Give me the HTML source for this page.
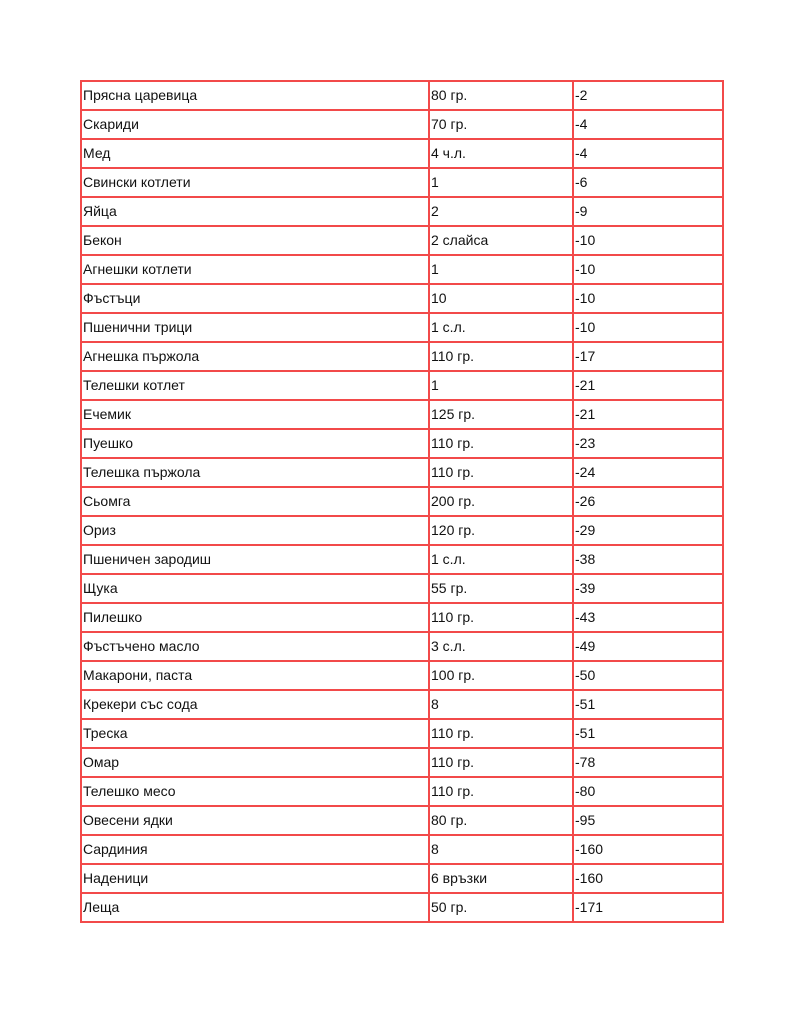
<!DOCTYPE html>
<html><head><meta charset="utf-8"><style>
html,body{margin:0;padding:0;background:#fff;width:805px;height:1024px;overflow:hidden}
table{position:absolute;left:80px;top:80px;border-collapse:collapse;font-family:"Liberation Sans","DejaVu Sans",sans-serif;font-size:14px;color:#111}
td{border:2px solid #f24a4a;height:27px;padding:0 0 0 1px;line-height:27px;white-space:nowrap;vertical-align:middle}
td:nth-child(1){width:345px}
td:nth-child(2){width:141px}
td:nth-child(3){width:147px}
</style></head><body>
<table>
<tr><td>Прясна царевица</td><td>80 гр.</td><td>-2</td></tr>
<tr><td>Скариди</td><td>70 гр.</td><td>-4</td></tr>
<tr><td>Мед</td><td>4 ч.л.</td><td>-4</td></tr>
<tr><td>Свински котлети</td><td>1</td><td>-6</td></tr>
<tr><td>Яйца</td><td>2</td><td>-9</td></tr>
<tr><td>Бекон</td><td>2 слайса</td><td>-10</td></tr>
<tr><td>Агнешки котлети</td><td>1</td><td>-10</td></tr>
<tr><td>Фъстъци</td><td>10</td><td>-10</td></tr>
<tr><td>Пшенични трици</td><td>1 с.л.</td><td>-10</td></tr>
<tr><td>Агнешка пържола</td><td>110 гр.</td><td>-17</td></tr>
<tr><td>Телешки котлет</td><td>1</td><td>-21</td></tr>
<tr><td>Ечемик</td><td>125 гр.</td><td>-21</td></tr>
<tr><td>Пуешко</td><td>110 гр.</td><td>-23</td></tr>
<tr><td>Телешка пържола</td><td>110 гр.</td><td>-24</td></tr>
<tr><td>Сьомга</td><td>200 гр.</td><td>-26</td></tr>
<tr><td>Ориз</td><td>120 гр.</td><td>-29</td></tr>
<tr><td>Пшеничен зародиш</td><td>1 с.л.</td><td>-38</td></tr>
<tr><td>Щука</td><td>55 гр.</td><td>-39</td></tr>
<tr><td>Пилешко</td><td>110 гр.</td><td>-43</td></tr>
<tr><td>Фъстъчено масло</td><td>3 с.л.</td><td>-49</td></tr>
<tr><td>Макарони, паста</td><td>100 гр.</td><td>-50</td></tr>
<tr><td>Крекери със сода</td><td>8</td><td>-51</td></tr>
<tr><td>Треска</td><td>110 гр.</td><td>-51</td></tr>
<tr><td>Омар</td><td>110 гр.</td><td>-78</td></tr>
<tr><td>Телешко месо</td><td>110 гр.</td><td>-80</td></tr>
<tr><td>Овесени ядки</td><td>80 гр.</td><td>-95</td></tr>
<tr><td>Сардиния</td><td>8</td><td>-160</td></tr>
<tr><td>Наденици</td><td>6 връзки</td><td>-160</td></tr>
<tr><td>Леща</td><td>50 гр.</td><td>-171</td></tr>
</table>
</body></html>
